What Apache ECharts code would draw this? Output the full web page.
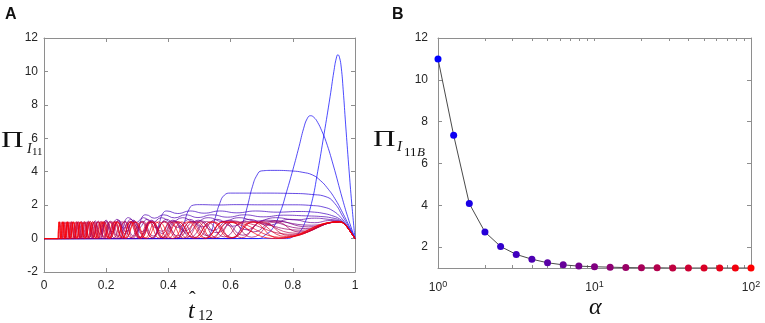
<!DOCTYPE html>
<html>
<head>
<meta charset="utf-8">
<script src="https://cdn.jsdelivr.net/npm/echarts@6/dist/echarts.min.js"></script>
<style>
  html, body { margin: 0; padding: 0; background: #fff; }
  #chart { width: 765px; height: 323px; }
</style>
</head>
<body>
<div id="chart"></div>
<script>
// ---- panel B: peak value vs alpha ----
var alphaValues = [1, 1.259, 1.585, 1.995, 2.512, 3.162, 3.981, 5.012, 6.310, 7.943, 10,
    12.59, 15.85, 19.95, 25.12, 31.62, 39.81, 50.12, 63.10, 79.43, 100];
var piPeakValues = [11.0, 7.35, 4.08, 2.72, 2.03, 1.65, 1.42, 1.25, 1.15, 1.09, 1.06,
    1.04, 1.02, 1.01, 1.01, 1.0, 1.0, 1.0, 1.0, 1.0, 1.0];
var yTicksB = [2, 4, 6, 8, 10, 12];
var xLabelsB = [1, 10, 100];
var xTicksB = [1, 2, 3, 4, 5, 6, 7, 8, 9, 10, 20, 30, 40, 50, 60, 70, 80, 90, 100];

// ---- panel A: one curve per alpha (blue -> red) ----
var curve0 = [[0,0],[0.78,0],[0.80,0.1],[0.82,0.35],[0.84,1.0],[0.86,2.1],[0.88,4.0],[0.90,6.2],[0.92,8.5],[0.932,10.0],[0.94,10.8],[0.945,11.0],[0.95,10.85],[0.956,10.2],[0.962,8.9],[0.97,6.8],[0.98,4.3],[0.99,2.0],[1,0]];
var curve1 = [[0,0],[0.69,0],[0.71,0.2],[0.735,0.6],[0.76,1.6],[0.78,2.8],[0.80,4.1],[0.82,5.5],[0.835,6.6],[0.847,7.2],[0.857,7.35],[0.868,7.25],[0.88,6.95],[0.893,6.45],[0.907,5.8],[0.93,4.4],[0.96,2.35],[0.98,1.1],[1,0]];
var curve2 = [[0,0],[0.60,0],[0.62,0.2],[0.64,1.0],[0.655,2.0],[0.67,3.1],[0.685,3.8],[0.70,4.05],[0.74,4.08],[0.80,4.04],[0.83,3.97],[0.864,3.8],[0.89,3.45],[0.91,3.05],[0.935,2.4],[0.96,1.55],[0.98,0.8],[1,0]];
var curve3 = [[0,0],[0.52,0],[0.535,0.3],[0.55,1.2],[0.565,2.1],[0.58,2.6],[0.60,2.72],[0.70,2.72],[0.80,2.7],[0.86,2.64],[0.907,2.5],[0.935,2.1],[0.96,1.35],[0.98,0.7],[1,0]];
var curve4 = [[0,0],[0.43,0],[0.44,0.3],[0.452,1.0],[0.465,1.7],[0.48,2.0],[0.50,2.03],[0.56,2.01],[0.62,2.03],[0.70,2.02],[0.80,2.02],[0.86,1.98],[0.90,1.88],[0.93,1.65],[0.955,1.25],[0.975,0.75],[1,0]];
var curve5 = [[0,0],[0.35,0],[0.36,0.3],[0.372,1.0],[0.382,1.5],[0.395,1.65],[0.43,1.5],[0.47,1.65],[0.515,1.52],[0.565,1.65],[0.62,1.54],[0.68,1.65],[0.75,1.58],[0.82,1.62],[0.87,1.58],[0.9,1.5],[0.925,1.38],[0.95,1.18],[0.97,0.85],[0.985,0.45],[1,0]];
var curve6 = [[0,0],[0.295,0],[0.303,0.4],[0.31,1.0],[0.318,1.35],[0.328,1.42],[0.355,1.22],[0.385,1.42],[0.42,1.24],[0.455,1.42],[0.495,1.26],[0.54,1.42],[0.59,1.28],[0.645,1.42],[0.705,1.3],[0.77,1.4],[0.84,1.36],[0.89,1.32],[0.925,1.24],[0.95,1.1],[0.97,0.82],[0.985,0.44],[1,0]];
var curve7 = [[0,0],[0.245,0],[0.252,0.4],[0.258,0.9],[0.265,1.2],[0.272,1.25],[0.295,0.95],[0.32,1.25],[0.348,0.96],[0.378,1.25],[0.41,0.98],[0.445,1.25],[0.485,1.0],[0.528,1.25],[0.575,1.02],[0.627,1.25],[0.684,1.05],[0.745,1.25],[0.81,1.12],[0.87,1.22],[0.91,1.16],[0.95,1.05],[0.97,0.8],[0.985,0.43],[1,0]];
var curve8 = [[0,0],[0.21,0],[0.218,0.5],[0.226,1.0],[0.235,1.15],[0.256,0.62],[0.279,1.15],[0.304,0.63],[0.332,1.15],[0.361,0.65],[0.394,1.15],[0.429,0.67],[0.468,1.15],[0.51,0.7],[0.556,1.15],[0.606,0.74],[0.66,1.15],[0.72,0.8],[0.79,1.15],[0.87,0.95],[0.92,1.08],[0.95,1.03],[0.97,0.79],[0.985,0.42],[1,0]];
var curve9 = [[0,0],[0.18,0],[0.19,0.6],[0.2,1.1],[0.219,0.4],[0.24,1.1],[0.263,0.41],[0.288,1.1],[0.315,0.42],[0.345,1.1],[0.378,0.44],[0.414,1.1],[0.453,0.46],[0.496,1.1],[0.543,0.49],[0.595,1.1],[0.651,0.53],[0.713,1.1],[0.86,0.8],[0.95,1.02],[0.965,0.9],[0.98,0.56],[0.99,0.28],[1,0]];
var curve10 = [[0,0],[0.152,0],[0.158,0.5],[0.165,1.06],[0.181,0.25],[0.198,1.06],[0.217,0.26],[0.238,1.06],[0.261,0.27],[0.287,1.06],[0.315,0.28],[0.346,1.06],[0.38,0.3],[0.418,1.06],[0.46,0.32],[0.506,1.06],[0.556,0.35],[0.612,1.06],[0.674,0.4],[0.742,1.06],[0.85,0.7],[0.95,1.01],[0.965,0.89],[0.98,0.55],[0.99,0.28],[1,0]];
var curve11 = [[0,0],[0.132,0],[0.137,0.5],[0.143,1.04],[0.158,0.12],[0.175,1.04],[0.193,0.12],[0.213,1.04],[0.236,0.13],[0.26,1.04],[0.288,0.14],[0.318,1.04],[0.351,0.15],[0.388,1.04],[0.429,0.16],[0.474,1.04],[0.524,0.18],[0.579,1.04],[0.64,0.2],[0.707,1.04],[0.84,0.6],[0.95,1.0],[0.965,0.88],[0.98,0.55],[0.99,0.28],[1,0]];
var curve12 = [[0,0],[0.112,0],[0.116,0.5],[0.121,1.02],[0.134,0.06],[0.149,1.02],[0.166,0.06],[0.184,1.02],[0.204,0.07],[0.227,1.02],[0.252,0.07],[0.279,1.02],[0.31,0.08],[0.344,1.02],[0.382,0.08],[0.424,1.02],[0.471,0.09],[0.523,1.02],[0.58,0.1],[0.645,1.02],[0.83,0.5],[0.95,1.0],[0.965,0.88],[0.98,0.55],[0.99,0.28],[1,0]];
var curve13 = [[0,0],[0.095,0],[0.1,0.5],[0.105,1.01],[0.117,0.04],[0.1305,1.01],[0.1455,0.04],[0.1623,1.01],[0.181,0.04],[0.2018,1.01],[0.225,0.05],[0.2509,1.01],[0.2797,0.05],[0.3119,1.01],[0.3478,0.06],[0.3878,1.01],[0.4324,0.06],[0.4821,1.01],[0.5375,0.07],[0.5993,1.01],[0.668,0.08],[0.745,1.01],[0.82,0.4],[0.95,1.0],[0.965,0.88],[0.98,0.55],[0.99,0.28],[1,0]];
var curve14 = [[0,0],[0.08,0],[0.084,0.5],[0.088,1.01],[0.0986,0.03],[0.1104,1.01],[0.1237,0.03],[0.1385,1.01],[0.1551,0.03],[0.1737,1.01],[0.1946,0.04],[0.2179,1.01],[0.2441,0.04],[0.2734,1.01],[0.3062,0.05],[0.3429,1.01],[0.3841,0.05],[0.4302,1.01],[0.4818,0.06],[0.5396,1.01],[0.6044,0.06],[0.677,1.01],[0.81,0.32],[0.95,1.0],[0.965,0.88],[0.98,0.55],[0.99,0.28],[1,0]];
var curve15 = [[0,0],[0.068,0],[0.071,0.5],[0.075,1.0],[0.0825,0.02],[0.0908,1.0],[0.0998,0.02],[0.1098,1.0],[0.1208,0.02],[0.1329,1.0],[0.1462,0.03],[0.1608,1.0],[0.1769,0.03],[0.1946,1.0],[0.214,0.03],[0.2354,1.0],[0.259,0.04],[0.2849,1.0],[0.3133,0.04],[0.3447,1.0],[0.3791,0.04],[0.417,1.0],[0.4587,0.05],[0.5046,1.0],[0.5551,0.05],[0.6106,1.0],[0.80,0.25],[0.95,1.0],[0.965,0.88],[0.98,0.55],[0.99,0.28],[1,0]];
var curve16 = [[0,0],[0.058,0],[0.061,0.5],[0.064,1.0],[0.0707,0.02],[0.0781,1.0],[0.0863,0.02],[0.0954,1.0],[0.1054,0.02],[0.1165,1.0],[0.1287,0.02],[0.1422,1.0],[0.1572,0.03],[0.1737,1.0],[0.1919,0.03],[0.2121,1.0],[0.2343,0.03],[0.2589,1.0],[0.2861,0.03],[0.3162,1.0],[0.3494,0.04],[0.3861,1.0],[0.4266,0.04],[0.4714,1.0],[0.5209,0.04],[0.5756,1.0],[0.636,0.05],[0.70,1.0],[0.79,0.18],[0.95,1.0],[0.965,0.88],[0.98,0.55],[0.99,0.28],[1,0]];
var curve17 = [[0,0],[0.05,0],[0.052,0.5],[0.055,1.0],[0.061,0.01],[0.0678,1.0],[0.0752,0.01],[0.0835,1.0],[0.0927,0.01],[0.1029,1.0],[0.1142,0.02],[0.1268,1.0],[0.1407,0.02],[0.1562,1.0],[0.1734,0.02],[0.1924,1.0],[0.2136,0.02],[0.2371,1.0],[0.2632,0.03],[0.2921,1.0],[0.3243,0.03],[0.3599,1.0],[0.3995,0.03],[0.4435,1.0],[0.4922,0.03],[0.5464,1.0],[0.6065,0.04],[0.6732,1.0],[0.78,0.12],[0.95,1.0],[0.965,0.88],[0.98,0.55],[0.99,0.28],[1,0]];
var curve18 = [[0,0],[0.045,0],[0.047,0.5],[0.05,1.0],[0.055,0.01],[0.0605,1.0],[0.0666,0.01],[0.0732,1.0],[0.0805,0.01],[0.0886,1.0],[0.0974,0.01],[0.1072,1.0],[0.1179,0.01],[0.1297,1.0],[0.1427,0.02],[0.1569,1.0],[0.1726,0.02],[0.1899,1.0],[0.2089,0.02],[0.2297,1.0],[0.2527,0.02],[0.278,1.0],[0.3058,0.02],[0.3364,1.0],[0.37,0.03],[0.407,1.0],[0.4477,0.03],[0.4925,1.0],[0.5417,0.03],[0.5959,1.0],[0.77,0.07],[0.95,1.0],[0.965,0.88],[0.98,0.55],[0.99,0.28],[1,0]];
var curve19 = [[0,0],[0.045,0],[0.0465,0.5],[0.049,1.0],[0.0546,0.01],[0.0609,1.0],[0.0679,0.01],[0.0758,1.0],[0.0845,0.01],[0.0942,1.0],[0.105,0.01],[0.1171,1.0],[0.1306,0.01],[0.1456,1.0],[0.1623,0.01],[0.181,1.0],[0.2018,0.02],[0.225,1.0],[0.2509,0.02],[0.2797,1.0],[0.3119,0.02],[0.3478,1.0],[0.3878,0.02],[0.4324,1.0],[0.4821,0.02],[0.5375,1.0],[0.5993,0.03],[0.6682,1.0],[0.755,0.03],[0.95,1.0],[0.965,0.88],[0.98,0.55],[0.99,0.28],[1,0]];
var curve20 = [[0,0],[0.045,0],[0.046,0.5],[0.048,1.0],[0.0538,0.0],[0.0602,1.0],[0.0674,0.0],[0.0755,1.0],[0.0846,0.0],[0.0947,1.0],[0.1061,0.0],[0.1188,1.0],[0.1331,0.01],[0.1491,1.0],[0.1669,0.01],[0.187,1.0],[0.2094,0.01],[0.2345,1.0],[0.2627,0.01],[0.2942,1.0],[0.3295,0.01],[0.369,1.0],[0.4133,0.01],[0.4629,1.0],[0.5185,0.01],[0.5807,1.0],[0.745,0.0],[0.95,1.0],[0.965,0.88],[0.98,0.55],[0.99,0.28],[1,0]];

var curvesA = [curve0, curve1, curve2, curve3, curve4, curve5, curve6, curve7, curve8, curve9, curve10,
    curve11, curve12, curve13, curve14, curve15, curve16, curve17, curve18, curve19, curve20];

// blue -> red
function mixColor(i, n) {
    var f = i / (n - 1);
    return 'rgb(' + Math.round(255 * f) + ',0,' + Math.round(255 * (1 - f)) + ')';
}

var frameColor = '#8e8e8e';
var labelColor = '#262626';
var tickFont = { color: labelColor, fontSize: 12, fontFamily: 'Liberation Sans' };

function frameAxis(extra) {
    var base = {
        gridIndex: 0,
        axisLine: { show: true, onZero: false, lineStyle: { color: frameColor, width: 1 } },
        axisTick: { show: true, inside: true, length: 4, lineStyle: { color: frameColor } },
        axisLabel: { show: false },
        splitLine: { show: false }
    };
    return echarts.util.merge(base, extra, true);
}

var chart = echarts.init(document.getElementById('chart'), null, { renderer: 'canvas' });

var seriesA = curvesA.map(function (c, k) {
    return {
        type: 'line',
        xAxisIndex: 0,
        yAxisIndex: 0,
        data: c,
        symbol: 'none',
        smooth: 0.5,
        silent: true,
        lineStyle: { width: 1, color: mixColor(k, curvesA.length), opacity: 0.7 }
    };
});

var pointsB = alphaValues.map(function (a, i) {
    return { value: [a, piPeakValues[i]], itemStyle: { color: mixColor(i, alphaValues.length) } };
});

var option = {
    animation: false,
    backgroundColor: '#fff',
    grid: [
        { left: 44, top: 38, width: 311, height: 234 },
        { left: 438, top: 38, width: 313, height: 230 }
    ],
    xAxis: [
        frameAxis({ type: 'value', min: 0, max: 1, interval: 0.2, position: 'bottom',
            axisLabel: { show: true, margin: 8, textStyle: tickFont } }),
        frameAxis({ type: 'value', min: 0, max: 1, interval: 0.2, position: 'top' }),
        frameAxis({ gridIndex: 1, type: 'log', logBase: 10, min: 1, max: 100, position: 'bottom',
            axisTick: { customValues: xTicksB, length: 3 },
            axisLabel: {
                show: true, margin: 12, customValues: xLabelsB,
                formatter: function (v) { return '{b|10}{s|' + Math.round(Math.log10(v)) + '}'; },
                rich: {
                    b: { fontSize: 12, fontFamily: 'Liberation Sans', color: labelColor, lineHeight: 14, verticalAlign: 'bottom' },
                    s: { fontSize: 9, fontFamily: 'Liberation Sans', color: labelColor, lineHeight: 9, verticalAlign: 'top' }
                }
            } }),
        frameAxis({ gridIndex: 1, type: 'log', logBase: 10, min: 1, max: 100, position: 'top',
            axisTick: { customValues: xTicksB, length: 3 } })
    ],
    yAxis: [
        frameAxis({ type: 'value', min: -2, max: 12, interval: 2, position: 'left',
            axisLabel: { show: true, margin: 6, textStyle: tickFont } }),
        frameAxis({ type: 'value', min: -2, max: 12, interval: 2, position: 'right' }),
        frameAxis({ gridIndex: 1, type: 'value', min: 1, max: 12, position: 'left',
            axisTick: { customValues: yTicksB },
            axisLabel: { show: true, margin: 10, customValues: yTicksB, textStyle: tickFont } }),
        frameAxis({ gridIndex: 1, type: 'value', min: 1, max: 12, position: 'right',
            axisTick: { customValues: yTicksB } })
    ],
    series: seriesA.concat([{
        type: 'line',
        xAxisIndex: 2,
        yAxisIndex: 2,
        data: pointsB,
        symbol: 'circle',
        symbolSize: 7,
        silent: true,
        lineStyle: { color: '#4a4a4a', width: 1 },
        z: 3
    }]),
    graphic: [
        { type: 'text', x: 5, y: 7, style: { text: 'A', font: 'bold 16px "Liberation Sans"', fill: '#111' } },
        { type: 'text', x: 392, y: 7, style: { text: 'B', font: 'bold 16px "Liberation Sans"', fill: '#111' } },
        // y label A
        { type: 'text', x: 1, y: 129, scaleX: 1.3, style: { text: 'Π', font: '24px "Liberation Serif"', fill: '#111' } },
        { type: 'text', x: 27, y: 142, style: { text: 'I', font: 'italic 14px "Liberation Serif"', fill: '#111' } },
        { type: 'text', x: 32, y: 147, style: { text: '11', font: '11px "Liberation Serif"', fill: '#111' } },
        // x label A
        { type: 'text', x: 189, y: 291, style: { text: 'ˆ', font: '20px "Liberation Serif"', fill: '#111' } },
        { type: 'text', x: 188, y: 300, style: { text: 't', font: 'italic 24px "Liberation Serif"', fill: '#111' } },
        { type: 'text', x: 198, y: 309, style: { text: '12', font: '15px "Liberation Serif"', fill: '#111' } },
        // y label B
        { type: 'text', x: 373, y: 128, scaleX: 1.3, style: { text: 'Π', font: '24px "Liberation Serif"', fill: '#111' } },
        { type: 'text', x: 397, y: 140, style: { text: 'I', font: 'italic 15px "Liberation Serif"', fill: '#111' } },
        { type: 'text', x: 404, y: 146, style: { text: '11', font: '13px "Liberation Serif"', fill: '#111' } },
        { type: 'text', x: 417, y: 146, style: { text: 'B', font: 'italic 13px "Liberation Serif"', fill: '#111' } },
        // x label B
        { type: 'text', x: 589, y: 296, style: { text: 'α', font: 'italic 24px "Liberation Serif"', fill: '#111' } }
    ]
};

chart.setOption(option);
</script>
</body>
</html>
